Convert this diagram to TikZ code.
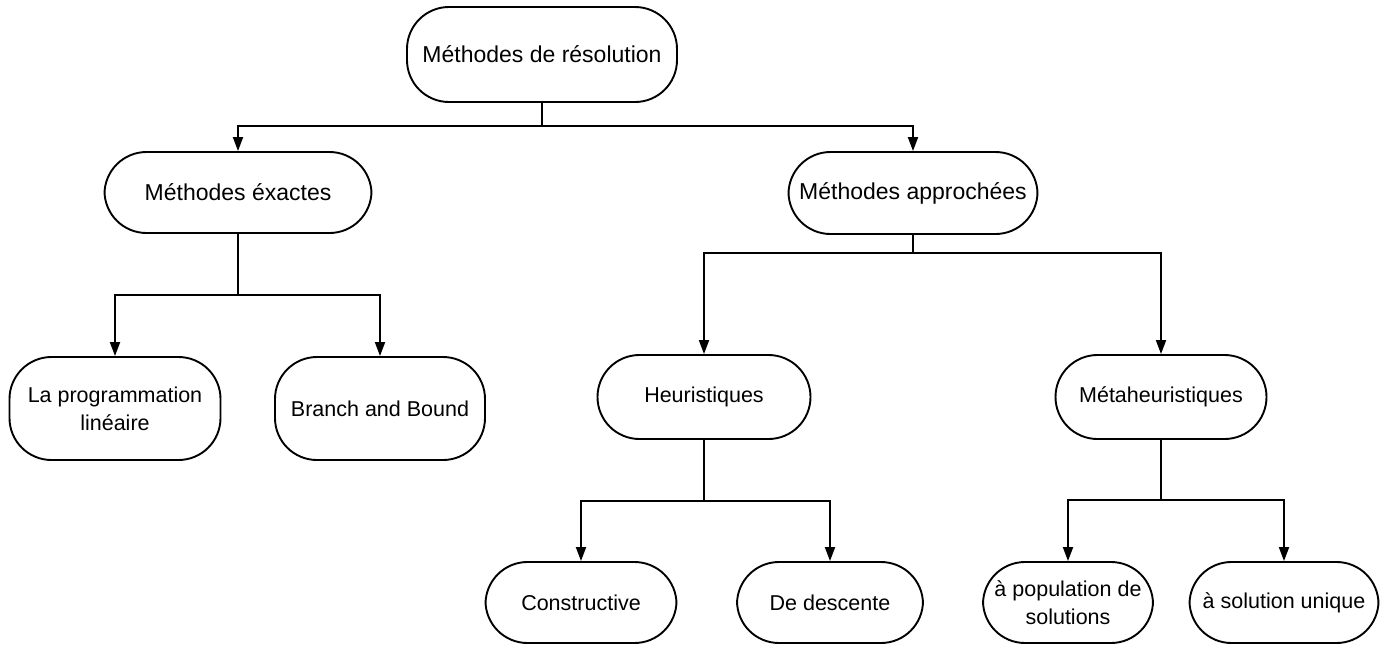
\documentclass[tikz,border=0pt]{standalone}
\usepackage{fontspec}
\setmainfont{Liberation Sans}
\usetikzlibrary{arrows.meta}
\begin{document}
\begin{tikzpicture}[x=1pt,y=-1pt,
  box/.style={draw=black, line width=1.9pt, rounded corners=42pt, fill=white,
    align=center, inner sep=0pt, font=\fontsize{21.5}{26}\selectfont},
  bigtext/.style={font=\fontsize{23}{27}\selectfont},
  link/.style={draw=black, line width=1.9pt},
  arrowlink/.style={link, -{Triangle[length=14pt,width=10pt]}}]
\useasboundingbox (0,0) rectangle (1387,646);

% top level
\node[box, bigtext, minimum width=270pt, minimum height=95pt] (root) at (542,54.5) {Méthodes de résolution};
\node[box, bigtext, minimum width=267pt, minimum height=81pt] (exact) at (238,192.5) {Méthodes éxactes};
\node[box, bigtext, minimum width=249pt, minimum height=82pt] (approx) at (913,193) {Méthodes approchées};

% exact methods
\node[box, minimum width=211pt, minimum height=103pt] (lp) at (115,408.5) {La programmation\\[2pt]linéaire};
\node[box, minimum width=210pt, minimum height=103pt] (bb) at (380,408.5) {Branch and Bound};

% approximate methods
\node[box, minimum width=213pt, minimum height=84pt] (heur) at (704,397) {Heuristiques};
\node[box, minimum width=211pt, minimum height=84pt] (meta) at (1161,397) {Métaheuristiques};

% leaves
\node[box, minimum width=191pt, minimum height=81pt] (constr) at (581,602.5) {Constructive};
\node[box, minimum width=186pt, minimum height=81pt] (desc) at (830,602.5) {De descente};
\node[box, minimum width=170pt, minimum height=81pt] (pop) at (1068,602.5) {à population de\\[2pt]solutions};
\node[box, minimum width=189pt, minimum height=81pt] (uniq) at (1284,602.5) {à solution unique};

% junctions of the tree connectors
\coordinate (j0) at (542,126);
\coordinate (j1) at (238,295);
\coordinate (j2) at (913,253);
\coordinate (j3) at (704,501);
\coordinate (j4) at (1161,500);

\draw[link] (root) -- (j0);
\draw[arrowlink] (j0) -| (exact);
\draw[arrowlink] (j0) -| (approx);

\draw[link] (exact) -- (j1);
\draw[arrowlink] (j1) -| (lp);
\draw[arrowlink] (j1) -| (bb);

\draw[link] (approx) -- (j2);
\draw[arrowlink] (j2) -| (heur);
\draw[arrowlink] (j2) -| (meta);

\draw[link] (heur) -- (j3);
\draw[arrowlink] (j3) -| (constr);
\draw[arrowlink] (j3) -| (desc);

\draw[link] (meta) -- (j4);
\draw[arrowlink] (j4) -| (pop);
\draw[arrowlink] (j4) -| (uniq);
\end{tikzpicture}
\end{document}
